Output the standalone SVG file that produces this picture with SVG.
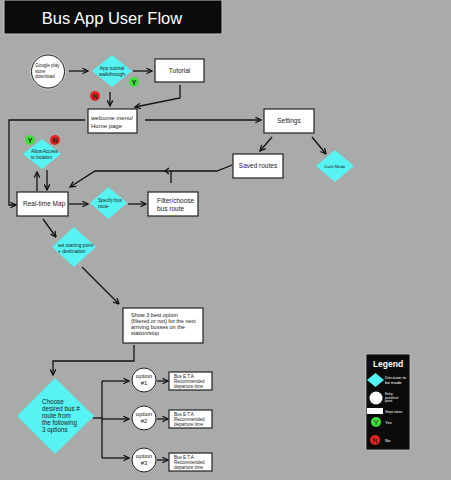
<svg xmlns="http://www.w3.org/2000/svg" width="451" height="480" viewBox="0 0 451 480">
<defs>
<marker id="ah" viewBox="0 0 10 10" refX="9" refY="5" markerWidth="7" markerHeight="7" orient="auto" markerUnits="userSpaceOnUse">
<path d="M1,1 L9,5 L1,9" fill="none" stroke="#111" stroke-width="1.8"/>
</marker>
</defs>
<style>
.box{fill:#fff;stroke:#222;stroke-width:1.2}
.halo{fill:none;stroke:#c9cbca;stroke-width:1}
.dia{fill:#56f3f2}
.circ{fill:#fff;stroke:#222;stroke-width:1}
.t{font-family:"Liberation Sans",Arial,sans-serif;fill:#222}
.c{stroke:#111;stroke-width:1.3;fill:none}
.ca{stroke:#111;stroke-width:1.3;fill:none;marker-end:url(#ah)}
.lg{font-family:"Liberation Sans",Arial,sans-serif;fill:#fff}
</style>
<rect x="0" y="0" width="451" height="480" fill="#a8abaa"/>
<g id="title">
<rect x="4" y="0" width="218" height="34" fill="#0b0b0b" stroke="#c4c6c5" stroke-width="1"/>
<text x="112" y="24" font-size="16.5" text-anchor="middle" class="lg" font-family="Roboto, sans-serif">Bus App User Flow</text>
</g>
<g id="connectors">
<line class="ca" x1="69" y1="71" x2="88" y2="71"/>
<line class="ca" x1="133" y1="71" x2="152" y2="71"/>
<line class="ca" x1="110" y1="92" x2="110" y2="106"/>
<polyline class="ca" points="180,85 180,98 135,107"/>
<polyline class="ca" points="85,120 9,120 9,205 16,205"/>
<line class="ca" x1="145" y1="120" x2="261" y2="120"/>
<line class="ca" x1="272" y1="137" x2="260" y2="151"/>
<line class="ca" x1="312" y1="137" x2="326" y2="154"/>
<polyline class="ca" points="232,165 217,171 95,171 70,187"/>
<line class="c" x1="171" y1="183" x2="171" y2="171"/>
<path class="c" d="M169,168 L165,171 L169,174"/>
<line class="ca" x1="37" y1="191" x2="37" y2="172"/>
<line class="ca" x1="47" y1="170" x2="47" y2="190"/>
<line class="ca" x1="69" y1="204" x2="88" y2="204"/>
<line class="ca" x1="128" y1="204" x2="146" y2="204"/>
<line class="ca" x1="43" y1="219" x2="56" y2="237"/>
<line class="ca" x1="82" y1="267" x2="119" y2="304"/>
<polyline class="ca" points="134,345 134,361 53,361 53,375"/>
<line class="c" x1="93" y1="418" x2="102" y2="418"/>
<line class="c" x1="102" y1="381" x2="102" y2="458"/>
<line class="ca" x1="102" y1="381" x2="129" y2="381"/>
<line class="ca" x1="102" y1="419" x2="129" y2="419"/>
<line class="ca" x1="102" y1="458" x2="129" y2="458"/>
<line class="ca" x1="157" y1="381" x2="168" y2="381"/>
<line class="ca" x1="157" y1="419" x2="168" y2="419"/>
<line class="ca" x1="157" y1="460" x2="168" y2="460"/>
</g>
<g id="google-play">
<circle cx="48" cy="71.5" r="17.5" class="halo"/>
<circle cx="48" cy="71.5" r="16.5" class="circ"/>
<text class="t" font-size="4.6"><tspan x="35" y="67">Google play</tspan><tspan x="35" y="72.5">store</tspan><tspan x="35" y="78">download</tspan></text>
</g>
<g id="app-tutorial">
<polygon class="dia" points="112,55 132,71 112,87 92,71"/>
<text class="t" font-size="4.8" text-anchor="middle"><tspan x="112" y="70">App tutorial</tspan><tspan x="112" y="75.5">walkthrough</tspan></text>
</g>
<g id="tutorial">
<rect x="155" y="59" width="49" height="23" class="box"/>
<text class="t" x="179.5" y="73" font-size="6.5" text-anchor="middle">Tutorial</text>
</g>
<g id="yes-1">
<circle cx="134" cy="82" r="5" fill="#3fe03c"/>
<text class="t" x="134" y="84.6" font-size="7" font-weight="bold" text-anchor="middle" fill="#111">Y</text>
</g>
<g id="no-1">
<circle cx="95" cy="96" r="5" fill="#e82222"/>
<text class="t" x="95" y="98.6" font-size="7" font-weight="bold" text-anchor="middle" fill="#111">N</text>
</g>
<g id="welcome">
<rect x="88" y="109" width="49" height="24" class="box"/>
<text class="t" font-size="6"><tspan x="91" y="120">welcome menu/</tspan><tspan x="91" y="127.5">Home page</tspan></text>
</g>
<g id="settings">
<rect x="264" y="109" width="50" height="24" class="box"/>
<text class="t" x="289" y="123" font-size="6.5" text-anchor="middle">Settings</text>
</g>
<g id="saved-routes">
<rect x="233" y="154" width="50" height="24" class="box"/>
<text class="t" x="258" y="168" font-size="6.5" text-anchor="middle">Saved routes</text>
</g>
<g id="dark-mode">
<polygon class="dia" points="335,150 354,166 335,182 316,166"/>
<text class="t" x="335" y="167.5" font-size="4.3" text-anchor="middle">Dark Mode</text>
</g>
<g id="allow-access">
<polygon class="dia" points="42,139 61,154 42,169 23,154"/>
<text class="t" font-size="4.6"><tspan x="31" y="153">Allow Access</tspan><tspan x="31" y="158.5">to location</tspan></text>
</g>
<g id="yes-2">
<circle cx="30" cy="140" r="5" fill="#3fe03c"/>
<text class="t" x="30" y="142.6" font-size="7" font-weight="bold" text-anchor="middle" fill="#111">Y</text>
</g>
<g id="no-2">
<circle cx="55" cy="140" r="5" fill="#e82222"/>
<text class="t" x="55" y="142.6" font-size="7" font-weight="bold" text-anchor="middle" fill="#111">N</text>
</g>
<g id="real-time-map">
<rect x="17" y="192" width="51" height="24" class="box"/>
<text class="t" x="23" y="206" font-size="6.5">Real-time Map</text>
</g>
<g id="specify-route">
<polygon class="dia" points="108.5,187 127,203 108.5,219 90,203"/>
<text class="t" font-size="4.6"><tspan x="98" y="202">Specify bus</tspan><tspan x="98" y="207.5">route</tspan></text>
</g>
<g id="filter">
<rect x="148" y="192" width="50" height="24" class="box"/>
<text class="t" font-size="6.5"><tspan x="157" y="203">Filter/choose</tspan><tspan x="157" y="210.5">bus route</tspan></text>
</g>
<g id="set-start">
<polygon class="dia" points="74,227 96,247 74,267 52,247"/>
<text class="t" font-size="4.8"><tspan x="58" y="247">set starting point</tspan><tspan x="58" y="252.5">+ destination</tspan></text>
</g>
<g id="show-options">
<rect x="123" y="308" width="80" height="35" class="box"/>
<text class="t" font-size="5.5"><tspan x="131" y="317">Show 3 best option</tspan><tspan x="131" y="323">(filtered or not) for the next</tspan><tspan x="131" y="329">arriving busses on the</tspan><tspan x="131" y="335">station/stop</tspan></text>
</g>
<g id="choose">
<polygon class="dia" points="55,378 94,416 55,454 17,416"/>
<text class="t" font-size="6.3"><tspan x="42" y="404">Choose</tspan><tspan x="42" y="411">desired bus #</tspan><tspan x="42" y="418">route from</tspan><tspan x="42" y="425">the following</tspan><tspan x="42" y="432">3 options</tspan></text>
</g>
<g id="option-1">
<circle cx="144" cy="380" r="12" class="circ"/>
<text class="t" font-size="6" text-anchor="middle"><tspan x="144" y="378">option</tspan><tspan x="144" y="385">#1</tspan></text>
</g>
<g id="option-2">
<circle cx="144" cy="418" r="12" class="circ"/>
<text class="t" font-size="6" text-anchor="middle"><tspan x="144" y="416">option</tspan><tspan x="144" y="423">#2</tspan></text>
</g>
<g id="option-3">
<circle cx="144" cy="460" r="12" class="circ"/>
<text class="t" font-size="6" text-anchor="middle"><tspan x="144" y="458">option</tspan><tspan x="144" y="465">#3</tspan></text>
</g>
<g id="eta-1">
<rect x="169" y="372" width="43" height="18" class="box"/>
<text class="t" font-size="4.5"><tspan x="174" y="377.5">Bus E.T.A</tspan><tspan x="174" y="382.5">Recommended</tspan><tspan x="174" y="387.5">departure time</tspan></text>
</g>
<g id="eta-2">
<rect x="169" y="410" width="43" height="18" class="box"/>
<text class="t" font-size="4.5"><tspan x="174" y="415.5">Bus E.T.A</tspan><tspan x="174" y="420.5">Recommended</tspan><tspan x="174" y="425.5">departure time</tspan></text>
</g>
<g id="eta-3">
<rect x="169" y="453" width="43" height="18" class="box"/>
<text class="t" font-size="4.5"><tspan x="174" y="458.5">Bus E.T.A</tspan><tspan x="174" y="463.5">Recommended</tspan><tspan x="174" y="468.5">departure time</tspan></text>
</g>
<g id="legend">
<rect x="366" y="354" width="44" height="96" fill="#0b0b0b" stroke="#c4c6c5" stroke-width="0.8"/>
<text class="lg" x="388" y="367" font-size="8.5" font-weight="bold" text-anchor="middle">Legend</text>
<polygon points="375.5,373 384,380 375.5,387 367,380" fill="#56f3f2"/>
<text class="lg" font-size="4.3"><tspan x="385" y="379">Decision to</tspan><tspan x="385" y="384">be made</tspan></text>
<circle cx="376" cy="398" r="6.5" fill="#fff"/>
<text class="lg" font-size="3.3"><tspan x="385" y="395">Entry</tspan><tspan x="385" y="398.5">point/exit</tspan><tspan x="385" y="402">point</tspan></text>
<rect x="367" y="408" width="16" height="6" fill="#fff"/>
<text class="lg" x="385" y="412.5" font-size="3.3">Steps taken</text>
<circle cx="376" cy="422" r="5" fill="#3fe03c"/>
<text x="376" y="424.6" font-size="7" text-anchor="middle" font-family="Liberation Sans, sans-serif" fill="#111">Y</text>
<text class="lg" x="385" y="423.5" font-size="4.3">Yes</text>
<circle cx="375" cy="440" r="5" fill="#e82222"/>
<text x="375" y="442.6" font-size="7" text-anchor="middle" font-family="Liberation Sans, sans-serif" fill="#111">N</text>
<text class="lg" x="385" y="441.5" font-size="4.3">No</text>
</g>
</svg>
